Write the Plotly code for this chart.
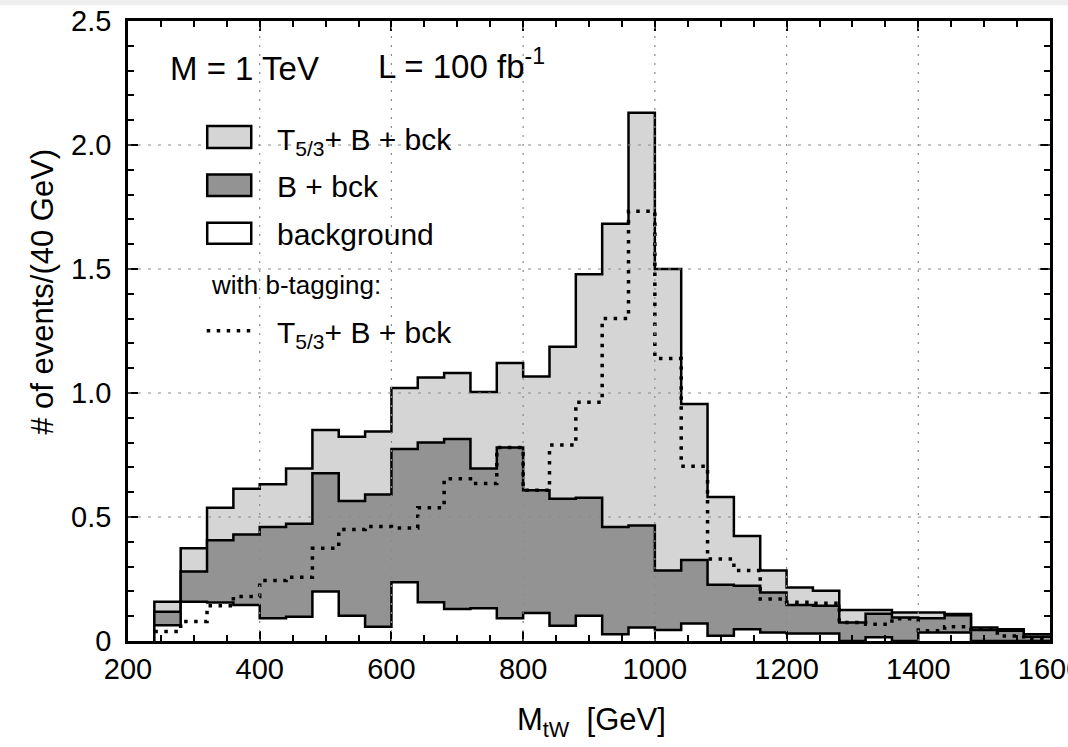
import plotly.graph_objects as go

# Bin edges (GeV), 40 GeV bins
edges = [240, 280, 320, 360, 400, 440, 480, 520, 560, 600, 640, 680, 720, 760,
         800, 840, 880, 920, 960, 1000, 1040, 1080, 1120, 1160, 1200, 1240, 1280,
         1320, 1360, 1400, 1440, 1480, 1520, 1560, 1600]

# T5/3 + B + bck (light grey)
total = [0.158, 0.374, 0.537, 0.614, 0.632, 0.696, 0.851, 0.824, 0.845, 1.020,
         1.063, 1.081, 1.004, 1.121, 1.067, 1.186, 1.479, 1.682, 2.130, 1.500,
         0.956, 0.581, 0.423, 0.284, 0.216, 0.203, 0.125, 0.125, 0.115, 0.115,
         0.109, 0.054, 0.047, 0.027]

# B + bck (dark grey)
b_bck = [0.118, 0.280, 0.406, 0.429, 0.460, 0.473, 0.676, 0.565, 0.591, 0.774,
         0.800, 0.815, 0.696, 0.780, 0.608, 0.574, 0.578, 0.460, 0.466, 0.284,
         0.327, 0.227, 0.223, 0.196, 0.145, 0.142, 0.075, 0.110, 0.095, 0.092,
         0.104, 0.044, 0.041, 0.017]

# background (white)
bkg = [0.064, 0.158, 0.155, 0.145, 0.092, 0.098, 0.200, 0.102, 0.057, 0.237,
       0.156, 0.129, 0.132, 0.092, 0.113, 0.061, 0.102, 0.027, 0.054, 0.044,
       0.071, 0.021, 0.047, 0.034, 0.030, 0.030, 0.0, 0.015, 0.0, 0.034,
       0.034, 0.0, 0.0, 0.0]

# with b-tagging: T5/3 + B + bck (dotted)
btag = [0.038, 0.079, 0.142, 0.179, 0.244, 0.257, 0.374, 0.450, 0.462, 0.456,
        0.537, 0.654, 0.635, 0.780, 0.608, 0.790, 0.963, 1.300, 1.733, 1.139,
        0.705, 0.331, 0.284, 0.169, 0.156, 0.152, 0.075, 0.068, 0.090, 0.041,
        0.057, 0.047, 0.020, 0.010]

x_ticks = [200, 400, 600, 800, 1000, 1200, 1400, 1600]
x_ticklabels = ["200", "400", "600", "800", "1000", "1200", "1400", "1600"]
y_ticks = [0, 0.5, 1.0, 1.5, 2.0, 2.5]
y_ticklabels = ["0", "0.5", "1.0", "1.5", "2.0", "2.5"]

FONT = "Liberation Sans, Arial, Helvetica, sans-serif"
LIGHT = "#d5d5d5"
DARK = "#939393"


def step_fill(vals):
    xs = [edges[0]] + edges
    ys = [0] + vals + [vals[-1]]
    return xs, ys


fig = go.Figure()
for vals, col in [(total, LIGHT), (b_bck, DARK), (bkg, "white")]:
    xs, ys = step_fill(vals)
    fig.add_trace(go.Scatter(x=xs, y=ys, mode="lines", line_shape="hv",
                             line=dict(color="black", width=2.5),
                             fill="tozeroy", fillcolor=col,
                             hoverinfo="skip", showlegend=False))

fig.add_trace(go.Scatter(x=edges, y=btag + [btag[-1]], mode="lines", line_shape="hv",
                         line=dict(color="black", width=3.5, dash="3.5px,6.5px"),
                         hoverinfo="skip", showlegend=False))


def px2px(x):
    return (x - 128.3) / 921.7


def py2py(y):
    return (640.6 - y) / 619.6


shapes = []
# thin grey strip along the top edge of the page
shapes.append(dict(type="rect", xref="paper", yref="paper", x0=-0.2, x1=1.1,
                   y0=py2py(5), y1=py2py(-10),
                   fillcolor="#eeeeee", line=dict(width=0), layer="below"))
# grid lines above fills
for xv in x_ticks[1:-1]:
    shapes.append(dict(type="line", xref="x", yref="paper", x0=xv, x1=xv, y0=0, y1=1,
                       line=dict(color="#8a8a8a", width=1.2, dash="2px,7px"), layer="above"))
for yv in y_ticks[1:-1]:
    shapes.append(dict(type="line", xref="paper", yref="y", x0=0, x1=1, y0=yv, y1=yv,
                       line=dict(color="#8a8a8a", width=1.2, dash="3px,7px"), layer="above"))

# legend boxes (paper coordinates)
for (y0, y1, col) in [(126, 148, LIGHT), (174.5, 196, DARK), (222.5, 243.5, "white")]:
    shapes.append(dict(type="rect", xref="paper", yref="paper",
                       x0=px2px(207.5), x1=px2px(251.5), y0=py2py(y1), y1=py2py(y0),
                       fillcolor=col, line=dict(color="black", width=2.5), layer="above"))
shapes.append(dict(type="line", xref="paper", yref="paper",
                   x0=px2px(207), x1=px2px(251), y0=py2py(330.5), y1=py2py(330.5),
                   line=dict(color="black", width=3.5, dash="3.5px,6.5px"), layer="above"))

annotations = []


def add_text(text, x, y, size, xanchor="left", angle=0):
    annotations.append(dict(text=text, xref="paper", yref="paper", x=x, y=y,
                            xanchor=xanchor, yanchor="middle", showarrow=False,
                            textangle=angle, font=dict(family=FONT, size=size, color="black")))


add_text("M = 1 TeV", px2px(168), py2py(68), 33)
add_text("L = 100 fb<sup>-1</sup>", px2px(376), py2py(64), 33)
add_text("T<sub>5/3</sub>+ B + bck", px2px(275), py2py(141), 30)
add_text("B + bck", px2px(275), py2py(186), 30)
add_text("background", px2px(275), py2py(234), 30)
add_text("with b-tagging:", px2px(209), py2py(285), 26)
add_text("T<sub>5/3</sub>+ B + bck", px2px(275), py2py(334), 30)
add_text("# of events/(40 GeV)", px2px(43), py2py(292), 31, xanchor="center", angle=-90)
add_text("M<sub>tW</sub>  [GeV]", px2px(592), py2py(722), 31, xanchor="center")

axis_common = dict(showline=True, linecolor="black", linewidth=2.5, mirror="allticks",
                   ticks="inside", tickcolor="black", tickwidth=2, ticklen=10,
                   showgrid=False, zeroline=False, layer="above traces",
                   ticklabeloverflow="allow", automargin=False,
                   tickfont=dict(family=FONT, size=29, color="black"))

fig.update_layout(
    width=1068, height=747,
    margin=dict(l=128, r=18, t=21, b=106),
    paper_bgcolor="white", plot_bgcolor="white",
    xaxis=dict(range=[200, 1600], tickvals=x_ticks, ticktext=x_ticklabels,
               minor=dict(dtick=50, tick0=200, ticks="inside", ticklen=6, tickwidth=1.5,
                          tickcolor="black", showgrid=False),
               **axis_common),
    yaxis=dict(range=[0, 2.5], tickvals=y_ticks, ticktext=y_ticklabels,
               minor=dict(dtick=0.1, tick0=0, ticks="inside", ticklen=6, tickwidth=1.5,
                          tickcolor="black", showgrid=False),
               ticklabelstandoff=8,
               **axis_common),
    shapes=shapes,
    annotations=annotations,
    showlegend=False,
)

fig.write_html("out.html")
